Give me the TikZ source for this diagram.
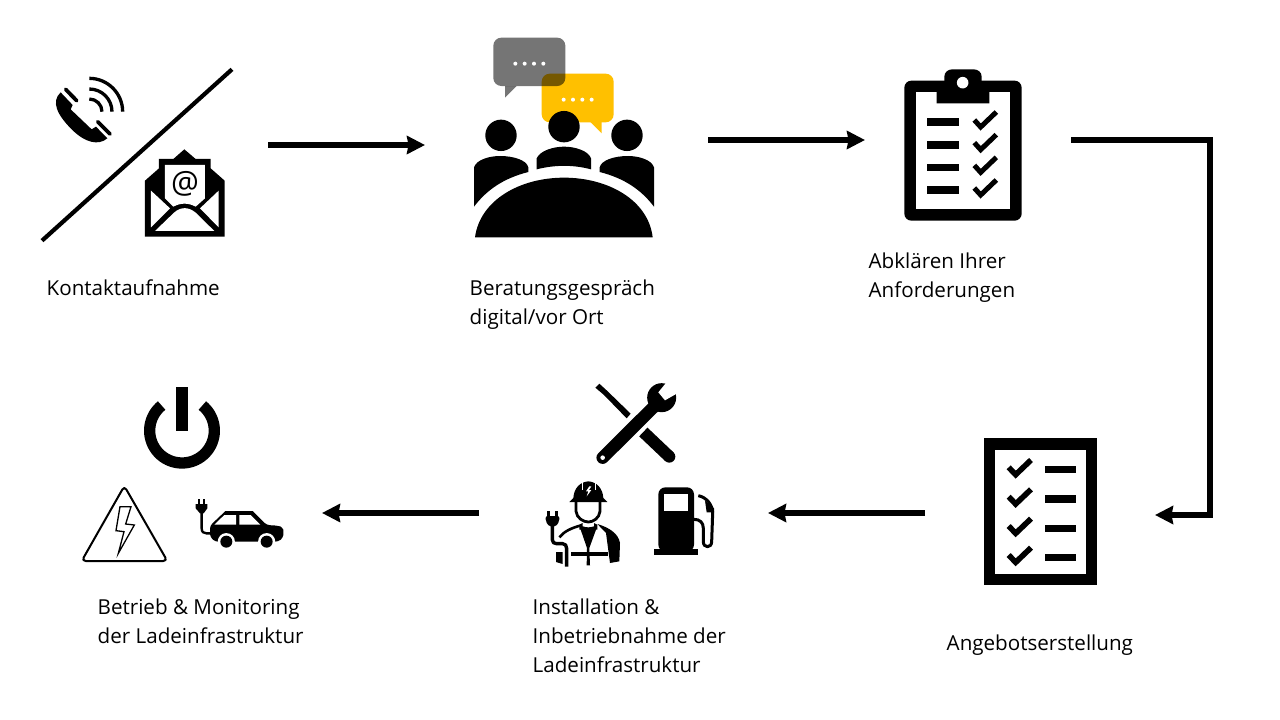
\documentclass[tikz,border=0pt]{standalone}
\usepackage{fontspec}
\setmainfont{Open Sans}
\usepackage{xcolor}
\usetikzlibrary{arrows.meta}
\usetikzlibrary{positioning}
\definecolor{ladegelb}{HTML}{FFC000}
\tikzset{
  flowarrow/.style={line width=5.8pt,line cap=butt,line join=miter,-{Stealth[length=18pt,width=18pt,inset=1.5pt]}},
  steptext/.style={anchor=north west,inner sep=0pt,align=left,font=\fontsize{20.6}{29}\selectfont},
  zoomat/.style 2 args={shift={(#1,#2)},x=0.33333pt,y=-0.33333pt},
}
\begin{document}
\begin{tikzpicture}[line join=round,x=1pt,y=-1pt]
\useasboundingbox (0,0) rectangle (1280,720);
\fill[white] (0,0) rectangle (1280,720);
% labels
\node[steptext] (kontakt) at (46.5,279.5) {Kontaktaufnahme};
\node[steptext] (beratung) at (469.5,279.5) {Beratungsgespräch\\digital/vor Ort};
\node[steptext] (abklaeren) at (868.5,252.5) {Abklären Ihrer\\Anforderungen};
\node[steptext] (angebot) at (946.5,634.5) {Angebotserstellung};
\node[steptext] (installation) at (532.5,598.5) {Installation \&\\Inbetriebnahme der\\Ladeinfrastruktur};
\node[steptext] (betrieb) at (97.5,598.5) {Betrieb \& Monitoring\\der Ladeinfrastruktur};
% arrows
\coordinate (kontaktout) at (268,145);
\coordinate (beratungin) at (425,145);
\coordinate (beratungout) at (708,140);
\coordinate (abklaerenin) at (865,140);
\coordinate (abklaerenout) at (1071,140);
\coordinate (rechtsoben) at (1210,140);
\coordinate (rechtsunten) at (1210,515);
\coordinate (angebotin) at (1155,515);
\coordinate (angebotout) at (925,513);
\coordinate (installin) at (768,513);
\coordinate (installout) at (479,513);
\coordinate (betriebin) at (322,513);
\draw[flowarrow] (kontaktout) -- (beratungin);
\draw[flowarrow] (beratungout) -- (abklaerenin);
\draw[flowarrow] (abklaerenout) -- (rechtsoben) -- (rechtsunten) -- (angebotin);
\draw[flowarrow] (angebotout) -- (installin);
\draw[flowarrow] (installout) -- (betriebin);
% phone, slash and mail
\begin{scope}[zoomat={30}{30}]
\draw[line width=4.2pt] (36,632) -- (606,118);
\fill (92,187) -- (128,225) -- (122,238) -- (185,298) -- (198,290) -- (232,325) .. controls (205,348) and (165,338) .. (125,298) .. controls (82,255) and (62,215) .. (92,187) -- cycle;
\draw[line width=3.8pt,line cap=round] (107,178) -- (140,212);
\draw[line width=3.8pt,line cap=round] (203,275) -- (240,312);
\foreach \r in {38,68,100}
  \draw[line width=3.3pt] (178,245-\r) .. controls (178+.55*\r,245-\r) and (178+\r,245-.55*\r) .. (178+\r,245);
\fill (345,620) -- (345,452) -- (387,415) -- (387,387) -- (430,387) -- (463,358) -- (497,387) -- (542,387) -- (542,415) -- (584,452) -- (584,620) -- cycle;
\fill[white] (405,405) -- (525,405) -- (525,505) -- (497,530) .. controls (475,518) and (452,518) .. (430,530) -- (405,505) -- cycle;
\fill[white] (363,482) -- (420,535) -- (363,592) -- cycle;
\fill[white] (566,482) -- (510,535) -- (566,592) -- cycle;
\fill[white] (375,603) -- (432,548) .. controls (452,530) and (476,530) .. (497,548) -- (553,603) -- cycle;
\node[inner sep=0pt,font=\fontsize{31}{31}\selectfont] (mailat) at (465,461) {@};
\end{scope}
% meeting
\begin{scope}[zoomat={460}{30}]
\fill[ladegelb,rounded corners=8pt] (245,131) rectangle (461,277);
\fill[ladegelb] (390,275) -- (425,310) -- (425,275) -- cycle;
\fill[black,opacity=.54,rounded corners=8pt] (100,23) rectangle (316,168);
\fill[black,opacity=.54] (135,168) -- (135,203) -- (170,168) -- cycle;
\foreach \x in {166,194,222,250}
  \fill[white] (\x,101) circle (2pt);
\foreach \x in {311,339,367,395}
  \fill[white] (\x,209) circle (2pt);
\fill (123,316) circle (15.7pt);
\fill (312,290) circle (15.7pt);
\fill (501,316) circle (15.7pt);
\fill (230,418) -- (230,385) .. controls (240,362) and (280,350) .. (312,350) .. controls (345,350) and (385,362) .. (393,385) -- (393,418) .. controls (340,404) and (285,404) .. (230,418) -- cycle;
\fill (42,530) -- (42,412) .. controls (50,388) and (90,378) .. (120,378) .. controls (160,378) and (200,390) .. (205,412) -- (205,426) .. controls (130,445) and (80,480) .. (42,530) -- cycle;
\fill (582,530) -- (582,412) .. controls (574,388) and (534,378) .. (504,378) .. controls (464,378) and (424,390) .. (419,412) -- (419,426) .. controls (494,445) and (544,480) .. (582,530) -- cycle;
\fill (45,622) .. controls (60,510) and (180,443) .. (312,443) .. controls (444,443) and (565,510) .. (578,622) -- cycle;
\end{scope}
% clipboard
\begin{scope}[zoomat={890}{60}]
\fill[rounded corners=7pt] (43,62) rectangle (395,482);
\fill[white] (77,96) rectangle (361,448);
\fill (163,70) -- (163,50) .. controls (163,36) and (175,28) .. (187,28) -- (251,28) .. controls (263,28) and (275,36) .. (275,50) -- (275,70) -- (298,96) -- (298,130) -- (140,130) -- (140,96) -- cycle;
\fill[white] (218,68) circle (5.8pt);
\foreach \y in {0,68,136,204} {
  \fill (110,175+\y) rectangle (208,198+\y);
  \draw[line width=5pt,line join=miter] (253,180+\y) -- (272,201+\y) -- (319,156+\y);
}
\end{scope}
% checklist
\begin{scope}[zoomat={970}{430}]
\fill (42,25) rectangle (382,466);
\fill[white] (76,59) rectangle (348,432);
\foreach \y in {0,88,176,263} {
  \fill (224,108+\y) rectangle (317,130+\y);
  \draw[line width=5.6pt,line join=miter] (116,112+\y) -- (137,134+\y) -- (183,90+\y);
}
\end{scope}
% tools
\begin{scope}[zoomat={530}{375}]
\fill (196,38) -- (208,26) -- (232,48) -- (302,116) -- (290,130) -- (222,60) -- cycle;
\draw[line width=12pt] (340,171) -- (418,245);
\fill (418,245) circle (6pt);
\draw[line width=12.5pt,line cap=round] (218,248) -- (375,92);
\fill (395,68) circle (14.5pt);
\fill[white] (411,20) -- (385,52) -- (405,76) -- (447,52) -- (440,20) -- cycle;
\fill[white] (218,248) circle (2.3pt);
\end{scope}
% worker
\begin{scope}[zoomat={540}{478}]
\fill (88,72) -- (100,60) .. controls (102,30) and (120,12) .. (145,10) .. controls (170,12) and (188,30) .. (190,60) -- (202,72) -- cycle;
\fill[white] (148,25) -- (138,40) -- (145,40) -- (140,55) -- (154,36) -- (147,36) -- (154,25) -- cycle;
\draw[white,line width=1pt] (126,12) -- (126,35);
\draw[white,line width=1pt] (165,12) -- (165,35);
\draw[line width=2.8pt] (108,72) -- (108,100) .. controls (110,120) and (130,132) .. (145,132) .. controls (160,132) and (178,120) .. (180,100) -- (180,72);
\fill (118,140) -- (128,135) -- (128,145) .. controls (140,149) and (150,149) .. (162,145) -- (162,135) -- (172,140) -- (172,155) -- (168,155) -- (148,210) -- (150,262) -- (140,262) -- (141,210) -- (122,155) -- (118,155) -- cycle;
\fill (172,138) .. controls (205,148) and (235,165) .. (240,195) -- (238,250) -- (210,255) -- (198,165) -- cycle;
\fill (92,222) rectangle (205,235);
\draw[line width=2.6pt] (120,143) .. controls (95,150) and (72,160) .. (58,178);
\fill (48,222) -- (68,222) -- (68,258) -- (48,252) -- cycle;
\fill (22,98) rectangle (30,120);
\fill (45,98) rectangle (53,120);
\fill[rounded corners=2pt] (17,114) -- (58,114) -- (58,130) -- (47,146) -- (28,146) -- (17,130) -- cycle;
\draw[line width=3.4pt] (37,144) -- (37,185) .. controls (37,193) and (42,197) .. (50,197) -- (68,197) .. controls (76,197) and (80,203) .. (80,212) -- (80,266);
\end{scope}
% pump
\begin{scope}[zoomat={650}{480}]
\fill[rounded corners=7pt] (25,215) -- (25,22) -- (132,22) -- (132,215) -- cycle;
\fill (13,207) rectangle (145,225);
\fill[white] (43,42) rectangle (113,92);
\draw[line width=3pt] (132,118) .. controls (150,118) and (160,128) .. (160,145) -- (160,185) .. controls (160,205) and (185,205) .. (185,185) -- (188,100) .. controls (188,75) and (170,52) .. (145,47);
\fill (165,62) -- (192,85) -- (192,97) -- (170,97) -- cycle;
\end{scope}
% power, warning and car
\begin{scope}[zoomat={75}{380}]
\fill (303,20) rectangle (339,153);
\draw[line width=11.3pt] plot[domain=129:411,samples=60] ({321+97*cos(\x)},{152-97*sin(\x)});
\draw[line width=2pt,rounded corners=4pt,line join=round] (148,318) -- (277,543) -- (20,543) -- cycle;
\draw[line width=1.3pt,line join=miter] (135,380) -- (168,380) -- (152,432) -- (178,435) -- (130,520) -- (147,455) -- (123,452) -- cycle;
\fill[rounded corners=3pt] (405,470) -- (405,437) -- (442,402) .. controls (448,396) and (452,393) .. (460,393) -- (525,393) .. controls (532,393) and (536,396) .. (542,402) -- (575,435) -- (608,437) .. controls (618,440) and (625,448) .. (625,458) -- (625,472) -- (610,485) -- (420,485) -- cycle;
\fill[white] (418,434) -- (448,405) -- (483,405) -- (483,434) -- cycle;
\fill[white] (493,405) -- (527,405) -- (556,434) -- (493,434) -- cycle;
\fill[white] (454,485) circle (8.6pt);
\fill[white] (575,485) circle (8.6pt);
\fill (454,485) circle (6pt);
\fill (575,485) circle (6pt);
\fill (370,358) rectangle (376,374);
\fill (385,358) rectangle (391,374);
\fill (362,372) -- (397,372) -- (397,385) -- (386,400) -- (375,400) -- (362,385) -- cycle;
\draw[line width=2.4pt] (380,398) -- (380,445) .. controls (380,456) and (386,460) .. (394,460) -- (412,460);
\end{scope}
\end{tikzpicture}
\end{document}
